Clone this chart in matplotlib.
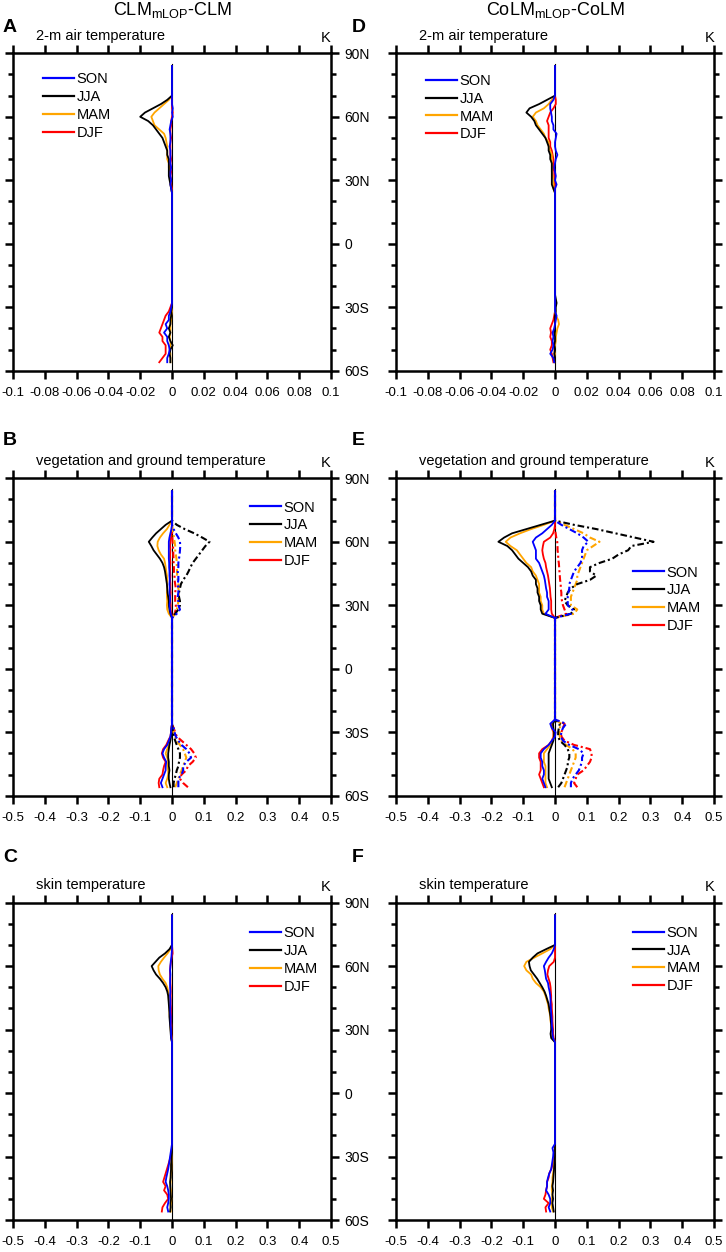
import numpy as np
import matplotlib.pyplot as plt
from matplotlib.lines import Line2D

plt.rcParams['font.family'] = ['Liberation Sans', 'DejaVu Sans']
plt.rcParams['mathtext.fontset'] = 'custom'
plt.rcParams['mathtext.rm'] = 'Liberation Sans'
plt.rcParams['mathtext.it'] = 'Liberation Sans:italic'

# latitudes (SH part, then NH part)
lat = [-56, -54, -52, -50, -48, -46, -44, -42, -40, -38, -36, -34, -32, -30, -28, -26, -24,
       24, 26, 28, 30, 32, 34, 36, 38, 40, 42, 44, 46, 48, 50, 52, 54, 56, 58, 60, 62, 64, 66, 68, 70, 72, 84]

# A: CLM 2-m air temperature
a_son = [-0.003, -0.003, -0.002, -0.0015, -0.002, -0.003, -0.003, -0.005, -0.003, -0.004, -0.002, -0.002, -0.001, -0.0005, 0, 0, 0,
         0, -0.0005, -0.001, -0.0005, -0.001, -0.001, -0.0005, -0.001, -0.001, -0.001, -0.001, -0.0015, -0.001, -0.001, -0.001, -0.0015, -0.001, -0.0005, 0.0005, 0, 0.0005, 0, 0, 0, 0, 0]
a_jja = [-0.001, -0.001, -0.0015, -0.001, 0.0005, -0.001, -0.002, -0.001, -0.002, -0.001, -0.001, -0.0005, -0.0005, 0, 0, 0, 0,
         0, -0.0005, -0.001, -0.0015, -0.002, -0.002, -0.002, -0.002, -0.002, -0.003, -0.003, -0.004, -0.005, -0.006, -0.008, -0.010, -0.012, -0.015, -0.020, -0.017, -0.012, -0.007, -0.003, 0, 0, 0]
a_mam = [-0.001, -0.001, -0.001, -0.0015, -0.001, -0.001, -0.0015, -0.001, -0.001, -0.001, -0.0005, -0.0005, 0, 0, 0, 0, 0,
         0, -0.0005, -0.001, -0.001, -0.0015, -0.0015, -0.002, -0.002, -0.003, -0.003, -0.003, -0.003, -0.0035, -0.004, -0.005, -0.008, -0.011, -0.012, -0.013, -0.011, -0.008, -0.005, -0.002, 0, 0, 0]
a_djf = [-0.008, -0.006, -0.004, -0.004, -0.004, -0.006, -0.006, -0.008, -0.007, -0.006, -0.005, -0.004, -0.002, -0.001, 0, 0, 0,
         0, 0, -0.0005, -0.0005, -0.001, -0.0005, -0.001, -0.001, -0.0005, -0.001, -0.001, -0.001, -0.001, -0.0005, -0.001, -0.001, -0.0005, -0.0005, 0, 0.0005, 0, 0, 0, 0, 0, 0]

# D: CoLM 2-m air temperature
d_son = [-0.0005, -0.001, -0.003, -0.0015, -0.001, -0.0015, -0.001, -0.0015, -0.0005, 0, 0.0005, 0.001, 0, 0, 0, 0, 0,
         0, 0, 0.001, 0, 0.0005, 0, -0.0005, 0, 0.0005, 0.0015, 0.0005, 0, 0, 0.0005, 0.001, -0.001, -0.001, -0.002, -0.002, -0.0025, -0.003, -0.003, -0.001, 0, 0, 0]
d_jja = [0, 0, -0.0005, 0, -0.0005, 0, 0, -0.0005, 0, 0, 0, 0, 0.0005, 0.0005, 0.001, 0.0005, 0,
         0, -0.001, -0.002, -0.002, -0.002, -0.002, -0.002, -0.002, -0.003, -0.003, -0.004, -0.004, -0.005, -0.006, -0.008, -0.010, -0.012, -0.013, -0.015, -0.018, -0.016, -0.010, -0.005, 0, 0, 0]
d_mam = [0, -0.0005, 0, -0.0005, 0, 0.0005, 0.0005, 0.001, 0.0015, 0.0025, 0.002, 0.0005, 0, 0, 0, 0, 0,
         0, -0.001, -0.001, -0.001, -0.0015, -0.002, -0.002, -0.002, -0.002, -0.002, -0.003, -0.004, -0.004, -0.006, -0.007, -0.009, -0.011, -0.012, -0.014, -0.012, -0.007, -0.004, -0.002, 0, 0, 0]
d_djf = [-0.001, -0.0015, -0.002, -0.003, -0.002, -0.002, -0.003, -0.0025, -0.003, -0.002, -0.001, -0.0005, 0, 0, 0.0005, 0, 0,
         0, 0, 0, -0.0005, -0.0005, -0.0005, -0.001, -0.001, -0.001, -0.0015, -0.002, -0.003, -0.003, -0.004, -0.004, -0.004, -0.004, -0.005, -0.004, -0.003, -0.001, 0.0005, 0.0005, 0, 0, 0]

# B: CLM vegetation (solid) and ground (dash-dot) temperature
b_son = [-0.03, -0.035, -0.03, -0.025, -0.02, -0.02, -0.018, -0.025, -0.03, -0.025, -0.015, -0.01, -0.005, -0.003, -0.002, 0, 0,
         0, -0.004, -0.006, -0.008, -0.006, -0.006, -0.008, -0.007, -0.008, -0.007, -0.008, -0.008, -0.009, -0.009, -0.01, -0.01, -0.01, -0.01, -0.01, -0.008, -0.005, -0.002, 0, 0, 0, 0]
b_jja = [-0.005, -0.008, -0.01, -0.01, -0.008, -0.01, -0.01, -0.012, -0.012, -0.01, -0.008, -0.005, -0.003, -0.002, -0.001, 0, 0,
         0, -0.005, -0.008, -0.01, -0.01, -0.012, -0.014, -0.015, -0.016, -0.018, -0.02, -0.022, -0.025, -0.03, -0.038, -0.048, -0.058, -0.065, -0.073, -0.062, -0.05, -0.035, -0.02, 0, 0, 0]
b_mam = [-0.015, -0.02, -0.015, -0.012, -0.012, -0.015, -0.012, -0.015, -0.02, -0.015, -0.01, -0.008, -0.004, -0.002, -0.001, 0, 0,
         0, -0.01, -0.015, -0.016, -0.015, -0.016, -0.016, -0.015, -0.016, -0.015, -0.016, -0.018, -0.02, -0.022, -0.025, -0.035, -0.042, -0.046, -0.045, -0.038, -0.028, -0.016, -0.008, 0, 0, 0]
b_djf = [-0.04, -0.042, -0.04, -0.03, -0.028, -0.025, -0.02, -0.028, -0.032, -0.028, -0.018, -0.012, -0.005, -0.003, -0.002, 0, 0,
         0, -0.002, -0.004, -0.004, -0.005, -0.005, -0.004, -0.005, -0.005, -0.006, -0.005, -0.006, -0.006, -0.005, -0.006, -0.006, -0.005, -0.006, -0.005, -0.003, -0.002, 0, 0, 0, 0, 0]
b_son_g = [0.02, 0.02, 0.02, 0.03, 0.035, 0.035, 0.045, 0.06, 0.055, 0.045, 0.03, 0.02, 0.012, 0.008, 0.005, 0, 0,
           0, 0.015, 0.025, 0.02, 0.02, 0.018, 0.02, 0.02, 0.018, 0.02, 0.02, 0.018, 0.02, 0.02, 0.022, 0.024, 0.025, 0.026, 0.025, 0.02, 0.012, 0.005, 0, 0, 0, 0]
b_jja_g = [0.005, 0.005, 0.008, 0.012, 0.015, 0.02, 0.022, 0.025, 0.025, 0.02, 0.015, 0.01, 0.006, 0.004, 0.002, 0, 0,
           0, 0.01, 0.02, 0.025, 0.025, 0.022, 0.022, 0.025, 0.028, 0.035, 0.045, 0.052, 0.058, 0.065, 0.075, 0.085, 0.095, 0.105, 0.118, 0.095, 0.07, 0.04, 0.015, 0, 0, 0]
b_mam_g = [0.01, 0.015, 0.02, 0.025, 0.03, 0.035, 0.04, 0.045, 0.04, 0.035, 0.025, 0.015, 0.01, 0.005, 0.003, 0, 0,
           0, 0.01, 0.015, 0.018, 0.02, 0.02, 0.022, 0.02, 0.02, 0.018, 0.016, 0.016, 0.015, 0.015, 0.014, 0.012, 0.01, 0.01, 0.008, 0.006, 0.004, 0.002, 0, 0, 0, 0]
b_djf_g = [0.05, 0.035, 0.025, 0.03, 0.045, 0.05, 0.065, 0.075, 0.07, 0.06, 0.045, 0.03, 0.015, 0.01, 0.005, 0, 0,
           0, 0.008, 0.012, 0.012, 0.01, 0.01, 0.01, 0.012, 0.01, 0.008, 0.008, 0.006, 0.006, 0.005, 0.005, 0.004, 0.004, 0.003, 0.002, 0.001, 0, 0, 0, 0, 0, 0]

# E: CoLM vegetation (solid) and ground (dash-dot) temperature
e_son = [-0.03, -0.035, -0.04, -0.035, -0.035, -0.04, -0.04, -0.045, -0.045, -0.035, -0.02, -0.01, 0.0, 0.002, -0.01, -0.015, 0,
         0, -0.03, -0.02, -0.02, -0.02, -0.025, -0.025, -0.028, -0.03, -0.032, -0.035, -0.04, -0.045, -0.05, -0.06, -0.06, -0.06, -0.065, -0.07, -0.06, -0.04, -0.025, -0.01, 0, 0, 0]
e_jja = [-0.01, -0.015, -0.02, -0.02, -0.02, -0.02, -0.02, -0.02, -0.02, -0.015, -0.01, -0.005, -0.003, -0.003, -0.005, -0.006, 0,
         0, -0.04, -0.045, -0.045, -0.05, -0.05, -0.055, -0.055, -0.06, -0.06, -0.07, -0.075, -0.085, -0.1, -0.115, -0.125, -0.135, -0.15, -0.178, -0.16, -0.135, -0.09, -0.045, 0, 0, 0]
e_mam = [-0.025, -0.03, -0.03, -0.03, -0.03, -0.03, -0.035, -0.035, -0.035, -0.025, -0.015, -0.008, -0.004, -0.004, -0.006, -0.008, 0,
         0, -0.035, -0.04, -0.04, -0.045, -0.045, -0.05, -0.05, -0.05, -0.055, -0.06, -0.07, -0.075, -0.09, -0.1, -0.11, -0.12, -0.14, -0.155, -0.14, -0.11, -0.075, -0.035, 0, 0, 0]
e_djf = [-0.035, -0.04, -0.045, -0.05, -0.045, -0.045, -0.045, -0.05, -0.05, -0.04, -0.02, -0.01, -0.005, -0.005, -0.01, -0.012, 0,
         0, -0.01, -0.012, -0.012, -0.012, -0.014, -0.015, -0.016, -0.018, -0.02, -0.022, -0.025, -0.028, -0.03, -0.035, -0.038, -0.04, -0.038, -0.035, -0.015, -0.006, -0.002, 0, 0, 0, 0]
e_son_g = [0.05, 0.05, 0.055, 0.065, 0.075, 0.08, 0.085, 0.085, 0.09, 0.075, 0.045, 0.025, 0.018, 0.02, 0.025, 0.035, 0,
           0, 0.05, 0.055, 0.04, 0.04, 0.04, 0.042, 0.045, 0.045, 0.05, 0.055, 0.06, 0.07, 0.08, 0.085, 0.085, 0.085, 0.09, 0.105, 0.09, 0.07, 0.045, 0.02, 0, 0, 0]
e_jja_g = [0.01, 0.02, 0.025, 0.03, 0.035, 0.04, 0.04, 0.045, 0.045, 0.04, 0.03, 0.015, 0.01, 0.01, 0.012, 0.015, 0,
           0, 0.05, 0.06, 0.04, 0.03, 0.035, 0.04, 0.05, 0.07, 0.11, 0.13, 0.11, 0.11, 0.14, 0.18, 0.2, 0.23, 0.24, 0.31, 0.25, 0.19, 0.13, 0.06, 0, 0, 0]
e_mam_g = [0.03, 0.035, 0.04, 0.045, 0.05, 0.055, 0.06, 0.065, 0.065, 0.055, 0.035, 0.02, 0.015, 0.015, 0.015, 0.02, 0,
           0, 0.06, 0.07, 0.05, 0.05, 0.05, 0.055, 0.06, 0.065, 0.07, 0.07, 0.075, 0.08, 0.085, 0.09, 0.095, 0.1, 0.12, 0.14, 0.11, 0.09, 0.06, 0.03, 0, 0, 0]
e_djf_g = [0.07, 0.06, 0.065, 0.07, 0.09, 0.1, 0.11, 0.115, 0.115, 0.11, 0.06, 0.03, 0.02, 0.02, 0.025, 0.03, 0,
           0, 0.035, 0.03, 0.025, 0.022, 0.02, 0.02, 0.018, 0.018, 0.016, 0.015, 0.014, 0.013, 0.012, 0.01, 0.01, 0.008, 0.008, 0.007, 0.004, 0.002, 0, 0, 0, 0, 0]

# C: CLM skin temperature
c_son = [-0.012, -0.015, -0.012, -0.01, -0.01, -0.012, -0.015, -0.02, -0.018, -0.015, -0.012, -0.01, -0.008, -0.006, -0.004, -0.002, 0,
         0, -0.002, -0.003, -0.003, -0.004, -0.004, -0.004, -0.005, -0.005, -0.005, -0.005, -0.006, -0.005, -0.006, -0.006, -0.006, -0.005, -0.006, -0.005, -0.004, -0.002, -0.001, 0, 0, 0, 0]
c_jja = [-0.006, -0.004, -0.005, -0.003, -0.004, -0.005, -0.005, -0.006, -0.004, -0.004, -0.003, -0.003, -0.002, -0.001, 0, 0, 0,
         0, -0.003, -0.004, -0.005, -0.006, -0.007, -0.008, -0.008, -0.009, -0.01, -0.011, -0.012, -0.015, -0.02, -0.028, -0.038, -0.05, -0.058, -0.064, -0.052, -0.04, -0.022, -0.008, 0, 0, 0]
c_mam = [-0.004, -0.005, -0.003, -0.002, -0.004, -0.003, -0.006, -0.004, -0.005, -0.003, -0.002, -0.002, -0.001, 0, 0, 0, 0,
         0, -0.002, -0.003, -0.004, -0.005, -0.006, -0.007, -0.008, -0.008, -0.009, -0.01, -0.011, -0.012, -0.015, -0.02, -0.03, -0.038, -0.042, -0.043, -0.035, -0.025, -0.014, -0.005, 0, 0, 0]
c_djf = [-0.032, -0.03, -0.022, -0.012, -0.015, -0.025, -0.02, -0.028, -0.024, -0.02, -0.016, -0.012, -0.008, -0.004, -0.002, 0, 0,
         0, -0.001, -0.002, -0.002, -0.002, -0.003, -0.003, -0.003, -0.003, -0.004, -0.004, -0.004, -0.004, -0.004, -0.005, -0.005, -0.006, -0.006, -0.005, -0.003, -0.001, 0.002, 0.001, 0, 0, 0]

# F: CoLM skin temperature
f_son = [-0.015, -0.02, -0.015, -0.015, -0.02, -0.028, -0.025, -0.025, -0.022, -0.018, -0.012, -0.01, -0.008, -0.006, -0.005, -0.008, 0,
         0, -0.006, -0.008, -0.008, -0.01, -0.01, -0.011, -0.012, -0.013, -0.014, -0.014, -0.015, -0.017, -0.02, -0.022, -0.028, -0.03, -0.032, -0.035, -0.028, -0.02, -0.01, -0.004, 0, 0, 0]
f_jja = [-0.004, -0.006, -0.008, -0.006, -0.008, -0.006, -0.008, -0.006, -0.005, -0.004, -0.003, -0.002, -0.001, 0, 0, 0, 0,
         0, -0.012, -0.014, -0.012, -0.012, -0.013, -0.014, -0.016, -0.018, -0.02, -0.024, -0.028, -0.033, -0.04, -0.048, -0.056, -0.066, -0.076, -0.08, -0.082, -0.07, -0.055, -0.028, 0, 0, 0]
f_mam = [-0.006, -0.01, -0.012, -0.01, -0.008, -0.01, -0.01, -0.008, -0.008, -0.006, -0.004, -0.003, -0.002, -0.001, 0, 0, 0,
         0, -0.008, -0.01, -0.01, -0.012, -0.014, -0.015, -0.017, -0.02, -0.022, -0.026, -0.03, -0.035, -0.045, -0.06, -0.07, -0.075, -0.09, -0.097, -0.09, -0.065, -0.04, -0.015, 0, 0, 0]
f_djf = [-0.028, -0.03, -0.02, -0.035, -0.03, -0.028, -0.025, -0.025, -0.02, -0.018, -0.012, -0.008, -0.004, -0.002, -0.001, 0, 0,
         0, -0.004, -0.006, -0.006, -0.007, -0.008, -0.008, -0.009, -0.01, -0.01, -0.012, -0.012, -0.013, -0.014, -0.016, -0.02, -0.024, -0.022, -0.018, -0.004, 0, 0, 0, 0, 0, 0]

# ticks
yticks = [-60, -30, 0, 30, 60, 90]
ylabels = ['60S', '30S', '0', '30N', '60N', '90N']
yminor = [-50, -40, -20, -10, 10, 20, 40, 50, 70, 80]
xt_small = [-0.1, -0.08, -0.06, -0.04, -0.02, 0, 0.02, 0.04, 0.06, 0.08, 0.1]
xl_small = ['-0.1', '-0.08', '-0.06', '-0.04', '-0.02', '0', '0.02', '0.04', '0.06', '0.08', '0.1']
xt_big = [-0.5, -0.4, -0.3, -0.2, -0.1, 0, 0.1, 0.2, 0.3, 0.4, 0.5]
xl_big = ['-0.5', '-0.4', '-0.3', '-0.2', '-0.1', '0', '0.1', '0.2', '0.3', '0.4', '0.5']

seasons = ['SON', 'JJA', 'MAM', 'DJF']
colors = {'SON': '#0000ff', 'JJA': 'black', 'MAM': '#ffa500', 'DJF': '#ff0000'}
draw_order = ['DJF', 'MAM', 'JJA', 'SON']
dashdot = (0, (3.2, 1.4, 1.0, 1.4))

fig = plt.figure(figsize=(7.26, 12.52), dpi=100)

col_x = [13 / 726, 396 / 726]
row_y = [1 - 370.7 / 1252, 1 - 795.7 / 1252, 1 - 1220 / 1252]
aw, ah = 318 / 726, 317.4 / 1252


def panel(col, row, xt, xl, subtitle, series, ground, leg_xy):
    ax = fig.add_axes([col_x[col], row_y[row], aw, ah])
    ax.axvline(0, ymax=0.967, color='black', lw=0.8)
    for s in draw_order:
        ax.plot(series[s], lat, color=colors[s], lw=1.3)
        if ground is not None:
            ax.plot(ground[s], lat, color=colors[s], lw=1.5, linestyle=dashdot)
    ax.set_xlim(xt[0], xt[-1])
    ax.set_ylim(-60, 90)
    ax.set_xticks(xt)
    ax.set_xticklabels(xl, fontsize=9.5)
    ax.set_yticks(yticks)
    ax.set_yticklabels(ylabels, fontsize=10)
    ax.set_yticks(yminor, minor=True)
    # the right column's latitude labels fall outside the picture in the reference
    ax.tick_params(which='both', direction='out', top=True, right=True, left=True, bottom=True,
                   labelleft=False, labelright=(col == 0), labeltop=False, width=1.8)
    ax.tick_params(axis='x', which='major', length=5.8, pad=6)
    ax.tick_params(axis='y', which='major', length=5.8, pad=4)
    ax.tick_params(which='minor', length=3.6)
    for sp in ax.spines.values():
        sp.set_linewidth(1.8)
    ax.text(0.072, 1.042, subtitle, transform=ax.transAxes, fontsize=10.5, va='baseline')
    ax.text(1.0, 1.036, 'K', transform=ax.transAxes, fontsize=10.5, ha='right', va='baseline')
    handles = [Line2D([], [], color=colors[s], lw=1.6) for s in seasons]
    ax.legend(handles, seasons, loc='upper left', bbox_to_anchor=leg_xy, frameon=False,
              fontsize=10.5, handlelength=2.1, handletextpad=0.2, labelspacing=0.26,
              borderpad=0, borderaxespad=0)
    return ax


panel(0, 0, xt_small, xl_small, '2-m air temperature',
      {'SON': a_son, 'JJA': a_jja, 'MAM': a_mam, 'DJF': a_djf}, None, (0.094, 0.94))
panel(1, 0, xt_small, xl_small, '2-m air temperature',
      {'SON': d_son, 'JJA': d_jja, 'MAM': d_mam, 'DJF': d_djf}, None, (0.095, 0.935))
panel(0, 1, xt_big, xl_big, 'vegetation and ground temperature',
      {'SON': b_son, 'JJA': b_jja, 'MAM': b_mam, 'DJF': b_djf},
      {'SON': b_son_g, 'JJA': b_jja_g, 'MAM': b_mam_g, 'DJF': b_djf_g}, (0.745, 0.93))
panel(1, 1, xt_big, xl_big, 'vegetation and ground temperature',
      {'SON': e_son, 'JJA': e_jja, 'MAM': e_mam, 'DJF': e_djf},
      {'SON': e_son_g, 'JJA': e_jja_g, 'MAM': e_mam_g, 'DJF': e_djf_g}, (0.745, 0.725))
panel(0, 2, xt_big, xl_big, 'skin temperature',
      {'SON': c_son, 'JJA': c_jja, 'MAM': c_mam, 'DJF': c_djf}, None, (0.745, 0.925))
panel(1, 2, xt_big, xl_big, 'skin temperature',
      {'SON': f_son, 'JJA': f_jja, 'MAM': f_mam, 'DJF': f_djf}, None, (0.745, 0.927))

# column titles and panel letters
fig.text(172 / 726, 1 - 15 / 1252, r'CLM$_{\mathrm{mLOP}}$-CLM', ha='center', va='baseline', fontsize=13)
fig.text(555.5 / 726, 1 - 15 / 1252, r'CoLM$_{\mathrm{mLOP}}$-CoLM', ha='center', va='baseline', fontsize=13)
for letter, x, y in [('A', 3, 31.7), ('D', 352, 31.7), ('B', 3, 445), ('E', 352, 445),
                     ('C', 3, 861.7), ('F', 352, 861.7)]:
    fig.text(x / 726, 1 - y / 1252, letter, fontsize=14, fontweight='bold', va='baseline')

fig.savefig('out.png', dpi=100)
